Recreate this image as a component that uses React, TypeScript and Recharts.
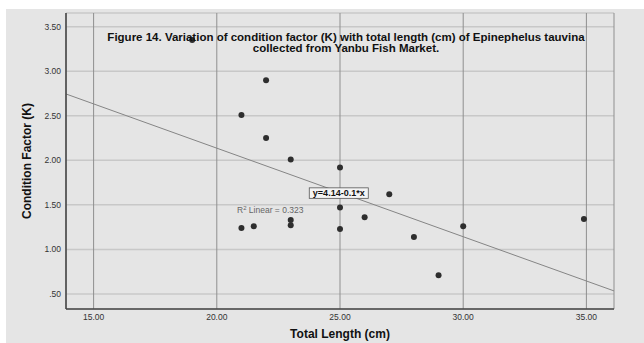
import {
	CartesianGrid,
	ReferenceDot,
	ReferenceLine,
	Scatter,
	ScatterChart,
	XAxis,
	YAxis,
} from "recharts";

// total length (cm) and condition factor K
const lengths = [19, 22, 21, 22, 23, 25, 27, 25, 26, 23, 23, 21.5, 21, 25, 30, 34.9, 28, 29];
const kValues = [3.35, 2.9, 2.51, 2.25, 2.01, 1.92, 1.62, 1.47, 1.36, 1.33, 1.27, 1.26, 1.24, 1.23, 1.26, 1.34, 1.14, 0.71];

const xTicks = [15, 20, 25, 30, 35];
const yTicks = [0.5, 1, 1.5, 2, 2.5, 3, 3.5];

// fitted line ends at the plot edges
const fitLine = [
	{ x: 13.88, y: 2.745 },
	{ x: 36.12, y: 0.534 },
];

const equationText = "y=4.14-0.1*x";
const rSquared = "0.323";

const points = lengths.map((x, i) => ({ x, y: kValues[i] }));

const fmtY = (v: number) => (v === 0.5 ? ".50" : v.toFixed(2));
const fmtX = (v: number) => v.toFixed(2);

const font = '"Liberation Sans", Arial, sans-serif';

export default function App() {
	return (
		<div
			style={{
				position: "absolute",
				left: 0,
				top: 0,
				width: 644,
				height: 343,
				background: "#fff",
				fontFamily: font,
			}}
		>
			<div
				style={{
					position: "absolute",
					left: 6,
					top: 9,
					right: 0,
					bottom: 0,
					background: "#e5e5e5",
				}}
			/>
			<ScatterChart
				width={644}
				height={343}
				margin={{ top: 13, right: 30, bottom: 0, left: 0 }}
				style={{ position: "absolute", left: 0, top: 0 }}
			>
				<CartesianGrid horizontal vertical={false} stroke="#c8c8c8" strokeWidth={1.5} />
				<CartesianGrid horizontal={false} vertical stroke="#8f8f8f" strokeWidth={1} />
				<XAxis
					type="number"
					dataKey="x"
					domain={[13.88, 36.12]}
					ticks={xTicks}
					tickFormatter={fmtX}
					allowDataOverflow
					height={34}
					tickLine={false}
					tickSize={3}
					tickMargin={2}
					axisLine={{ stroke: "#444", strokeWidth: 1.5 }}
					tick={{ fontSize: 8.5, fill: "#333", fontFamily: font }}
					label={{
						value: "Total Length (cm)",
						position: "insideBottom",
						offset: 5,
						fontSize: 12,
						fontWeight: "bold",
						fill: "#111",
						fontFamily: font,
					}}
				/>
				<YAxis
					type="number"
					dataKey="y"
					domain={[0.331, 3.654]}
					ticks={yTicks}
					tickFormatter={fmtY}
					allowDataOverflow
					width={66}
					tickLine={false}
					tickSize={3}
					tickMargin={2}
					axisLine={{ stroke: "#444", strokeWidth: 1.5 }}
					tick={{ fontSize: 8.5, fill: "#333", fontFamily: font }}
					label={{
						value: "Condition Factor (K)",
						angle: -90,
						position: "center",
						dx: -6,
						fontSize: 12,
						fontWeight: "bold",
						fill: "#111",
						fontFamily: font,
					}}
				/>
				<ReferenceLine
					segment={fitLine}
					stroke="#858585"
					strokeWidth={1}
					ifOverflow="visible"
				/>
				<Scatter
					data={points}
					fill="#2e2e2e"
					isAnimationActive={false}
					shape={(p: any) => <circle cx={p.cx} cy={p.cy} r={3} fill="#2e2e2e" />}
				/>
				<ReferenceDot
					x={20.82}
					y={1.413}
					ifOverflow="visible"
					shape={(p: any) => (
						<text x={p.cx} y={p.cy} fontSize={8.5} fill="#666" fontFamily={font}>
							R
							<tspan dy={-3} fontSize={6}>
								2
							</tspan>
							<tspan dy={3}> Linear = {rSquared}</tspan>
						</text>
					)}
				/>
				<ReferenceDot
					x={24.95}
					y={1.635}
					ifOverflow="visible"
					shape={(p: any) => (
						<g>
							<rect
								x={p.cx - 29.5}
								y={p.cy - 5}
								width={59}
								height={10.5}
								fill="#f4f4f4"
								stroke="#555"
								strokeWidth={0.8}
							/>
							<text
								x={p.cx}
								y={p.cy + 3.3}
								textAnchor="middle"
								fontSize={9}
								fontWeight="bold"
								fill="#111"
								fontFamily={font}
							>
								{equationText}
							</text>
						</g>
					)}
				/>
			</ScatterChart>
			<div
				style={{
					position: "absolute",
					left: 46,
					top: 32,
					width: 600,
					textAlign: "center",
					fontSize: 11.5,
					lineHeight: "10.5px",
					fontWeight: "bold",
					color: "#111",
				}}
			>
				Figure 14. Variation of condition factor (K) with total length (cm) of Epinephelus tauvina
				<br />
				collected from Yanbu Fish Market.
			</div>
		</div>
	);
}
